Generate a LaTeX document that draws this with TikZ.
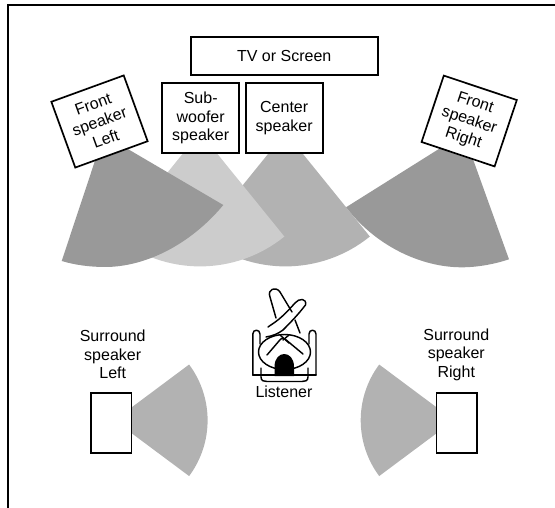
\documentclass[tikz,border=0pt]{standalone}
\usepackage{fontspec}
\setmainfont{Liberation Sans}
\tikzset{
  spk/.style={draw=black,fill=white,line width=1.7pt,inner sep=0pt,align=center,
    font=\fontsize{16}{18.6}\selectfont},
  lbl/.style={inner sep=0pt,align=center,font=\fontsize{16}{18.6}\selectfont},
  wedgeA/.style={fill=black!40},
  wedgeB/.style={fill=black!30},
  wedgeC/.style={fill=black!20},
  pers/.style={line width=1.45pt,line cap=round,line join=round},
}
\begin{document}
\begin{tikzpicture}[x=1pt,y=-1pt]
\useasboundingbox (0,0) rectangle (555,508);
% frame
\coordinate (fa) at (8.3,508);
\coordinate (fb) at (8.3,5.3);
\coordinate (fc) at (555,5.3);
\draw[line width=1.8pt,line join=miter] (fa) -- (fb) -- (fc);
% wedges
\fill[wedgeA] (463.7,133.4) -- (346,207.3) .. controls (375,245) and (420,267.3) .. (461.7,267.3)
   .. controls (478,267.3) and (495,264) .. (509,259.3) -- cycle;
\fill[wedgeB] (285.5,132.4) -- ++(-51:134pt) arc[start angle=-51,end angle=-129,radius=134pt] -- cycle;
\fill[wedgeC] (200,132.4) -- ++(-51:134pt) arc[start angle=-51,end angle=-129,radius=134pt] -- cycle;
\fill[wedgeA] (103.6,134.8) -- (223.3,205) .. controls (190,245) and (145,267) .. (105,267)
   .. controls (90,267) and (75,265) .. (61.7,261) -- cycle;
\fill[wedgeB] (114.3,420.3) -- ++(36.7:93.3pt) arc[start angle=36.7,end angle=-36.7,radius=93.3pt] -- cycle;
\fill[wedgeB] (454,420.3) -- ++(143.3:93.3pt) arc[start angle=143.3,end angle=216.7,radius=93.3pt] -- cycle;
% speakers
\node[spk,minimum width=187pt,minimum height=38pt] (tv) at (284.2,56) {TV or Screen};
\node[spk,minimum width=77pt,minimum height=70pt] (sub) at (200.7,118) {Sub-\\woofer\\speaker};
\node[spk,minimum width=77pt,minimum height=70pt] (cen) at (284.2,118) {Center\\speaker};
\node[spk,minimum width=77pt,minimum height=70pt,rotate=20] (fl) at (99.5,121.5) {Front\\speaker\\Left};
\node[spk,minimum width=77pt,minimum height=70pt,rotate=-18.5] (fr) at (469.2,121) {Front\\speaker\\Right};
\node[spk,minimum width=40.5pt,minimum height=60pt] (sl) at (111.3,423.3) {};
\node[spk,minimum width=40.5pt,minimum height=60pt] (sr) at (456.8,423.3) {};
\node[lbl] (sltext) at (112.7,354.5) {Surround\\speaker\\Left};
\node[lbl] (srtext) at (456.3,354.5) {Surround\\speaker\\Right};
\node[lbl] (listener) at (284,392) {Listener};
% listener figure
\begin{scope}[pers]
  % chair
  \draw (252.8,375) -- (252.8,334) .. controls (252.8,329) and (260,329) .. (260,334) -- (260,344);
  \draw (316,375) -- (316,334) .. controls (316,329) and (309,329) .. (309,334) -- (309,344);
  \draw[line width=1.6pt] (252.8,375) -- (316,375);
  \draw (261,368) -- (261,377) .. controls (261,381) and (264,381.5) .. (267,381.5) -- (302,381.5)
     .. controls (305,381.5) and (308,381) .. (308,377) -- (308,368);
  % legs
  \draw (276,318) -- (270,297) .. controls (267,289) and (276,286) .. (280,292) -- (292,312);
  \draw (295,320) -- (300,333);
  \draw (268,327) .. controls (275,322) and (280,320) .. (295,303) .. controls (299,298) and (307,298) .. (305.5,305)
     .. controls (303,308) and (299,314) .. (283,330) .. controls (278,334) and (272,336) .. (266,337);
  % shoulders
  \draw (284.5,352) ellipse[x radius=26pt,y radius=17.5pt];
  \draw (267,355) -- (279,341) .. controls (281,338) and (283,338) .. (285,339) -- (303,354);
  \draw (280,335) -- (289,343);
  \draw (289,335) -- (283,340);
  % head
  \fill[black] (274.5,376) -- (274.5,367) .. controls (274.5,358) and (279.5,354) .. (284.3,354)
     .. controls (289,354) and (294,358) .. (294,367) -- (294,376) -- cycle;
\end{scope}
\end{tikzpicture}
\end{document}
